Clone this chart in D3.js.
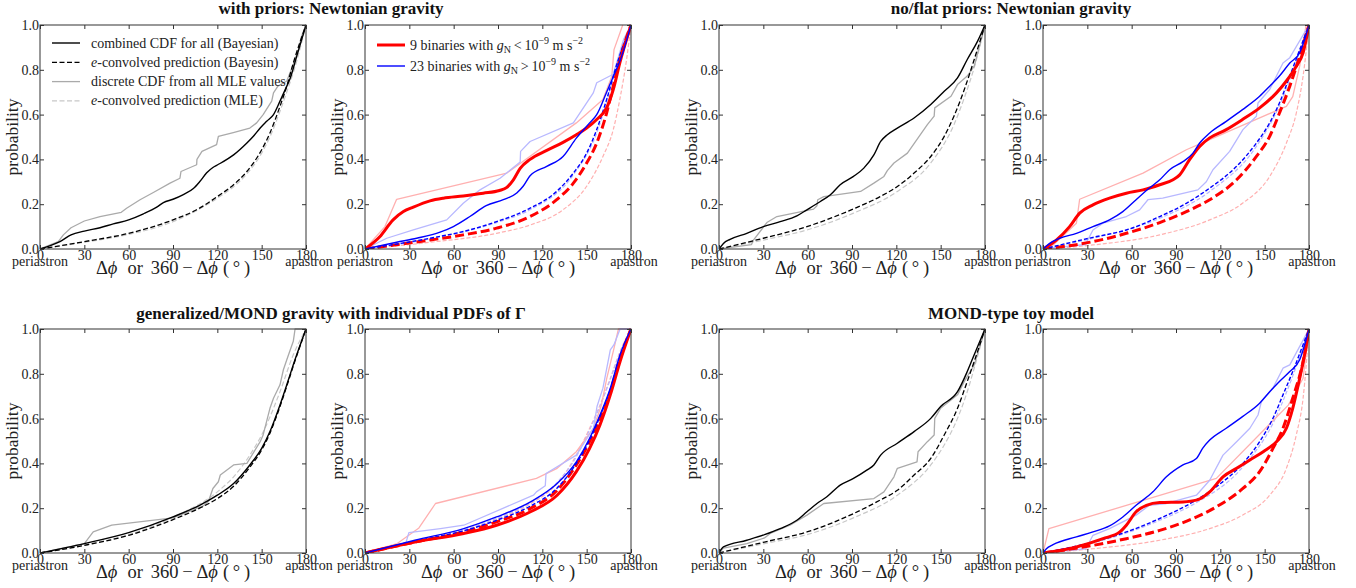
<!DOCTYPE html>
<html><head><meta charset="utf-8">
<script src="https://cdn.jsdelivr.net/npm/d3@7"></script>
<style>
body{margin:0;background:#fff}
svg{display:block}
svg text{font-family:"Liberation Serif","DejaVu Serif","Times New Roman",serif;fill:#222}
</style></head><body>
<svg id="c" width="1356" height="588"></svg>
<script>
// ---------- tick labels ----------
const xTicks=[0,30,60,90,120,150,180];
const yTicks=[0,0.2,0.4,0.6,0.8,1.0];
const titles=["with priors: Newtonian gravity","no/flat priors: Newtonian gravity","generalized/MOND gravity with individual PDFs of \u0393","MOND-type toy model"];
const legendAll=["combined CDF for all (Bayesian)","e-convolved prediction (Bayesin)","discrete CDF from all MLE values","e-convolved prediction (MLE)"];

// ---------- panel 1: with priors, all ----------
const p1_bayes=[[0,0],[7,0.015],[13.5,0.033],[21,0.063],[30,0.08],[40.6,0.095],[49.6,0.112],[60,0.13],[70,0.157],[79,0.187],[83.5,0.207],[90,0.222],[97,0.243],[103.8,0.27],[108,0.30],[112.8,0.34],[117,0.364],[120,0.375],[131,0.42],[140,0.473],[144.4,0.503],[149,0.54],[153.4,0.57],[158,0.60],[162.4,0.66],[167,0.727],[169,0.757],[173.7,0.86],[180,1]];
const p1_bayesPred=[[0,0],[15,0.016],[30,0.033],[60,0.07],[90,0.13],[106,0.175],[120,0.234],[131,0.287],[140,0.346],[150,0.443],[155.6,0.518],[162.4,0.637],[167,0.727],[171.4,0.83],[180,1]];
const p1_mle=[[0,0],[12.4,0.033],[15.8,0.063],[21,0.095],[30,0.125],[40.6,0.145],[55,0.164],[58.6,0.182],[67.7,0.22],[76.7,0.252],[88,0.294],[94.7,0.316],[95.4,0.346],[106,0.376],[106.2,0.40],[109.6,0.436],[119.5,0.466],[120.7,0.503],[130.8,0.52],[142,0.54],[146.6,0.563],[151,0.60],[156.8,0.66],[158,0.697],[161,0.727],[167,0.75],[171.4,0.824],[174.8,0.89],[177,0.95],[180,1]];
const p1_mlePred=[[0,0],[30,0.03],[60,0.065],[90,0.122],[120,0.227],[131,0.278],[140,0.335],[150,0.428],[155.6,0.50],[162.4,0.615],[168,0.72],[172,0.80],[180,1]];

// ---------- panel 2: with priors, split ----------
const p2_redB=[[0,0],[10,0.055],[19,0.13],[26,0.167],[32.7,0.187],[44,0.215],[53,0.227],[66.5,0.237],[80,0.249],[91,0.261],[96,0.275],[100.4,0.309],[105,0.36],[111.7,0.40],[123,0.44],[134,0.476],[143,0.51],[150,0.54],[156.8,0.578],[163.5,0.63],[168,0.712],[172.4,0.83],[180,1]];
const p2_blueB=[[0,0],[21.4,0.03],[35,0.048],[50.8,0.075],[59.8,0.10],[71,0.145],[82,0.194],[93.6,0.22],[102.7,0.25],[107,0.28],[111.7,0.327],[123,0.369],[134,0.413],[143,0.495],[152,0.563],[156.8,0.60],[163.5,0.70],[168,0.77],[173.7,0.86],[180,1]];
const p2_redBP=[[0,0],[44,0.04],[66.5,0.063],[89,0.093],[111.7,0.145],[129.7,0.22],[141,0.294],[150,0.384],[156.8,0.473],[163.5,0.607],[168,0.727],[172.4,0.846],[180,1]];
const p2_blueBP=[[0,0],[44,0.048],[66.5,0.078],[89,0.122],[111.7,0.182],[129.7,0.257],[141,0.339],[150,0.428],[156.8,0.533],[163.5,0.667],[170,0.816],[180,1]];
const p2_redM=[[0,0],[13.5,0.10],[21.4,0.222],[96,0.339],[143,0.563],[161,0.667],[167,0.77],[168.5,0.89],[174.4,1]];
const p2_blueM=[[0,0],[14.7,0.048],[32.7,0.085],[55.3,0.13],[66.5,0.204],[77.8,0.264],[91.4,0.316],[105,0.388],[105.3,0.436],[111.7,0.48],[141,0.563],[154.5,0.697],[156.8,0.742],[168,0.78],[175,0.936],[180,1]];
const p2_redMP=[[0,0],[44,0.03],[89,0.07],[111.7,0.107],[134,0.175],[150,0.28],[161,0.413],[168,0.533],[172.4,0.667],[177,0.846],[180,1]];
const p2_blueMP=[[0,0],[44,0.045],[89,0.118],[111.7,0.175],[141,0.331],[156.8,0.518],[163.5,0.655],[170,0.81],[180,1]];

// ---------- panel 3: flat priors, all ----------
const p3_bayes=[[0,0],[3,0.025],[7.5,0.043],[18.8,0.07],[30,0.10],[41.4,0.122],[52.7,0.148],[59.5,0.175],[68.6,0.212],[75.4,0.242],[82,0.287],[91,0.324],[98,0.361],[104.8,0.42],[109.4,0.48],[113.9,0.51],[120.7,0.54],[132,0.585],[143.3,0.645],[152.4,0.704],[161.4,0.764],[168,0.846],[175,0.928],[180,1]];
const p3_bayesPred=[[0,0],[30,0.048],[59.5,0.10],[91,0.179],[109,0.234],[120.7,0.279],[132,0.339],[143.3,0.413],[152.4,0.503],[159,0.593],[166,0.712],[172.7,0.846],[180,1]];
const p3_mle=[[0,0],[22,0.02],[23.3,0.04],[32.4,0.118],[39.2,0.145],[64,0.178],[66.3,0.193],[66.8,0.22],[70.9,0.234],[95.8,0.257],[104.8,0.294],[111.6,0.324],[113.9,0.35],[118.4,0.384],[127.5,0.428],[141,0.555],[145.6,0.593],[146,0.63],[157,0.682],[161.4,0.734],[168,0.772],[172.7,0.816],[180,1]];
const p3_mlePred=[[0,0],[30,0.04],[59.5,0.085],[91,0.16],[120.7,0.257],[143.3,0.384],[159,0.555],[166,0.675],[172.7,0.81],[180,1]];

// ---------- panel 4: flat priors, split ----------
const p4_redB=[[0,0],[9,0.04],[18,0.10],[24.8,0.16],[33.8,0.197],[45,0.227],[56.4,0.249],[67.7,0.264],[79,0.287],[88,0.309],[92.5,0.331],[99.3,0.40],[106,0.458],[112.8,0.496],[124,0.533],[135,0.578],[146.6,0.63],[158,0.697],[164.7,0.75],[171.4,0.816],[176,0.876],[180,1]];
const p4_blueB=[[0,0],[4.5,0.025],[11.3,0.048],[22.6,0.07],[33.8,0.10],[45,0.13],[54,0.167],[63,0.22],[72,0.272],[79,0.309],[85.7,0.354],[94.7,0.39],[101.5,0.428],[106,0.473],[112.8,0.518],[124,0.57],[135,0.622],[146.6,0.682],[153.4,0.727],[160,0.772],[167,0.83],[173.7,0.876],[180,1]];
const p4_redBP=[[0,0],[33.8,0.033],[56.4,0.07],[79,0.118],[97,0.167],[112.8,0.22],[131,0.309],[144.4,0.413],[153.4,0.503],[160,0.607],[167,0.727],[173.7,0.861],[180,1]];
const p4_blueBP=[[0,0],[33.8,0.052],[56.4,0.085],[79,0.145],[97,0.204],[112.8,0.272],[131,0.369],[144.4,0.473],[153.4,0.563],[160,0.652],[167,0.772],[173.7,0.89],[180,1]];
const p4_redM=[[0,0],[6.8,0.018],[22.6,0.115],[24.8,0.222],[67.7,0.339],[97,0.443],[112.8,0.488],[164.7,0.637],[169,0.68],[173.7,0.816],[178,1]];
const p4_blueM=[[0,0],[29,0.02],[30.5,0.043],[33.8,0.085],[40.6,0.115],[56.4,0.145],[65.4,0.175],[71,0.22],[81,0.227],[104.8,0.264],[110.5,0.30],[115,0.354],[126.3,0.436],[135.3,0.533],[144.4,0.593],[145.5,0.652],[153.4,0.712],[162.4,0.83],[167,0.854],[180,1]];
const p4_redMP=[[0,0],[33.8,0.018],[79,0.063],[112.8,0.13],[135,0.204],[153.4,0.324],[164.7,0.473],[171.4,0.607],[176,0.772],[180,1]];
const p4_blueMP=[[0,0],[33.8,0.048],[79,0.137],[112.8,0.257],[144.4,0.458],[160,0.64],[173.7,0.88],[180,1]];

// ---------- panel 5: MOND gravity, all ----------
const p5_bayes=[[0,0],[30,0.042],[60,0.091],[90,0.161],[108,0.213],[120,0.258],[131,0.31],[142,0.393],[150,0.467],[155.6,0.542],[162.4,0.661],[167,0.751],[171.4,0.84],[180,1]];
const p5_bayesPred=[[0,0],[30,0.034],[60,0.079],[90,0.149],[108,0.20],[120,0.243],[131,0.298],[142,0.383],[150,0.46],[155.6,0.535],[162.4,0.654],[167,0.745],[171.4,0.835],[180,1]];
const p5_mle=[[0,0],[30,0.042],[36,0.094],[48.5,0.124],[90,0.157],[110.5,0.21],[114,0.231],[117,0.288],[120.7,0.318],[122,0.348],[131,0.393],[140,0.40],[149,0.497],[151,0.527],[155.6,0.646],[158,0.691],[162.4,0.751],[164.7,0.818],[167,0.863],[171.4,0.945],[172.6,1],[180,1]];
const p5_mlePred=[[0,0],[30,0.036],[60,0.082],[90,0.16],[120,0.273],[131,0.34],[142,0.437],[150,0.527],[162.4,0.72],[171.4,0.885],[180,1]];

// ---------- panel 6: MOND gravity, split ----------
const p6_redB=[[0,0],[33.75,0.049],[66.8,0.087],[89,0.124],[112,0.184],[130,0.258],[143,0.363],[152,0.467],[159,0.572],[166,0.706],[172.6,0.855],[180,1]];
const p6_blueB=[[0,0],[33.75,0.057],[66.8,0.109],[89,0.161],[112,0.228],[130,0.31],[143,0.407],[152,0.512],[159,0.616],[166,0.736],[172.6,0.885],[180,1]];
const p6_redBP=[[0,0],[33.75,0.049],[66.8,0.094],[89,0.139],[112,0.199],[130,0.28],[143,0.393],[152,0.497],[159,0.60],[166,0.72],[172.6,0.87],[180,1]];
const p6_blueBP=[[0,0],[33.75,0.052],[66.8,0.099],[89,0.146],[112,0.21],[130,0.29],[143,0.40],[152,0.504],[159,0.609],[166,0.728],[172.6,0.875],[180,1]];
const p6_redM=[[0,0],[21.8,0.042],[36.5,0.112],[47.7,0.221],[116,0.333],[130,0.378],[143,0.452],[154.6,0.557],[160,0.661],[163.6,0.78],[168,0.90],[171.5,1],[180,1]];
const p6_blueM=[[0,0],[27.5,0.042],[29.7,0.091],[51,0.109],[66.8,0.124],[114,0.258],[116,0.273],[122,0.30],[122.5,0.355],[143,0.437],[154.6,0.557],[157,0.654],[161,0.736],[166,0.907],[168.5,0.93],[172.6,1],[180,1]];
const p6_redMP=[[0,0],[33.75,0.05],[66.8,0.10],[89,0.15],[112,0.22],[130,0.31],[143,0.437],[152,0.557],[159,0.66],[166,0.78],[172.6,0.90],[180,1]];
const p6_blueMP=[[0,0],[33.75,0.052],[66.8,0.103],[89,0.155],[112,0.225],[130,0.315],[143,0.43],[152,0.55],[159,0.655],[166,0.775],[172.6,0.895],[180,1]];

// ---------- panel 7: toy model, all ----------
const p7_bayes=[[0,0],[3,0.027],[18.8,0.057],[30.8,0.082],[41.4,0.109],[52.7,0.146],[59.5,0.184],[66.3,0.221],[73,0.251],[82,0.303],[91,0.333],[100,0.37],[104.8,0.393],[109.4,0.437],[120.7,0.49],[132,0.542],[143.3,0.601],[150,0.654],[161.4,0.72],[168,0.81],[172.7,0.885],[180,1]];
const p7_bayesPred=[[0,0],[30.8,0.049],[59.5,0.094],[91,0.176],[109,0.236],[120.7,0.28],[132,0.348],[143.3,0.422],[152.4,0.527],[161.4,0.646],[168,0.766],[172.7,0.855],[180,1]];
const p7_mle=[[0,0],[3,0.022],[18.8,0.042],[30.8,0.067],[34.6,0.087],[48,0.124],[59.5,0.169],[70.9,0.221],[104.8,0.243],[111.6,0.273],[118.4,0.34],[120.7,0.378],[134,0.407],[134.7,0.452],[141,0.497],[145.6,0.527],[146,0.601],[150,0.646],[161.4,0.706],[166,0.766],[172.7,0.84],[180,1]];
const p7_mlePred=[[0,0],[30.8,0.042],[59.5,0.082],[91,0.157],[120.7,0.258],[143.3,0.393],[152.4,0.482],[161.4,0.601],[168,0.72],[172.7,0.825],[180,1]];

// ---------- panel 8: toy model, split ----------
const p8_redB=[[0,0],[22.6,0.027],[40.6,0.064],[52,0.094],[56.4,0.124],[63,0.184],[70,0.213],[79,0.225],[94.7,0.228],[103.8,0.236],[112.8,0.273],[121.8,0.34],[131,0.378],[140,0.415],[149,0.452],[158,0.497],[164.7,0.557],[169,0.646],[173.7,0.78],[177,0.885],[180,1]];
const p8_blueB=[[0,0],[2.3,0.019],[6.8,0.037],[22.6,0.072],[33.8,0.094],[45,0.121],[54,0.161],[63,0.213],[74.4,0.273],[83.5,0.34],[94.7,0.393],[103.8,0.422],[108,0.467],[112.8,0.504],[124,0.557],[135,0.609],[146.6,0.669],[153.4,0.72],[160,0.766],[167,0.81],[173.7,0.863],[180,1]];
const p8_redBP=[[0,0],[33.8,0.034],[56.4,0.064],[79,0.101],[101.5,0.154],[117.3,0.206],[135.3,0.288],[146.6,0.363],[155.6,0.467],[162.4,0.557],[169,0.691],[176,0.855],[180,1]];
const p8_blueBP=[[0,0],[33.8,0.049],[56.4,0.094],[79,0.154],[101.5,0.228],[117.3,0.296],[135.3,0.40],[146.6,0.497],[155.6,0.601],[162.4,0.706],[169,0.81],[176,0.93],[180,1]];
const p8_redM=[[0,0],[4,0.109],[117.3,0.333],[166,0.66],[176,0.78],[180,1]];
const p8_blueM=[[0,0],[29,0.019],[33.8,0.079],[45,0.109],[54,0.139],[63,0.169],[72,0.213],[83.5,0.221],[103.8,0.258],[112.8,0.325],[121.8,0.437],[131,0.497],[140,0.557],[145.5,0.616],[147.8,0.676],[155.6,0.736],[162.4,0.825],[167,0.84],[180,1]];
const p8_redMP=[[0,0],[33.8,0.019],[79,0.057],[112.8,0.109],[135,0.169],[153.4,0.258],[164.7,0.378],[171.4,0.527],[176,0.691],[180,1]];
const p8_blueMP=[[0,0],[33.8,0.045],[79,0.146],[101.5,0.216],[135.3,0.385],[155.6,0.579],[169,0.79],[180,1]];

// ---------- layout ----------
const FONT='"Liberation Serif","DejaVu Serif","Times New Roman",serif';
const lefts=[40,365,719,1043], tops=[25,329], W=266, H=224;
const styles={
  mle:{c:"#aaaaaa",w:1.3,smooth:false},
  mlePred:{c:"#c8c8c8",w:1.2,dash:"5,2.5",smooth:true},
  bayesPred:{c:"#000000",w:1.3,dash:"5,2.5",smooth:true},
  bayes:{c:"#000000",w:1.4,smooth:true},
  redMP:{c:"#ffb0b0",w:1.2,dash:"4,2",smooth:true},
  blueMP:{c:"#b8b8ff",w:1.2,dash:"4,2",smooth:true},
  redM:{c:"#ffb0b0",w:1.3,smooth:false},
  blueM:{c:"#b8b8ff",w:1.3,smooth:false},
  redBP:{c:"#ff0000",w:3,dash:"9,4",smooth:true},
  blueBP:{c:"#0000ff",w:1.4,dash:"4,2",smooth:true},
  redB:{c:"#ff0000",w:3,smooth:true},
  blueB:{c:"#0000ff",w:1.4,smooth:true}
};
const orderAll=["mlePred","mle","bayesPred","bayes"];
const orderSplit=["redMP","blueMP","redM","blueM","redBP","blueBP","redB","blueB"];
const panels=[
  {c:0,r:0,d:{bayes:p1_bayes,bayesPred:p1_bayesPred,mle:p1_mle,mlePred:p1_mlePred},legend:"all"},
  {c:1,r:0,d:{redB:p2_redB,blueB:p2_blueB,redBP:p2_redBP,blueBP:p2_blueBP,redM:p2_redM,blueM:p2_blueM,redMP:p2_redMP,blueMP:p2_blueMP},legend:"split"},
  {c:2,r:0,d:{bayes:p3_bayes,bayesPred:p3_bayesPred,mle:p3_mle,mlePred:p3_mlePred}},
  {c:3,r:0,d:{redB:p4_redB,blueB:p4_blueB,redBP:p4_redBP,blueBP:p4_blueBP,redM:p4_redM,blueM:p4_blueM,redMP:p4_redMP,blueMP:p4_blueMP}},
  {c:0,r:1,d:{bayes:p5_bayes,bayesPred:p5_bayesPred,mle:p5_mle,mlePred:p5_mlePred}},
  {c:1,r:1,d:{redB:p6_redB,blueB:p6_blueB,redBP:p6_redBP,blueBP:p6_blueBP,redM:p6_redM,blueM:p6_blueM,redMP:p6_redMP,blueMP:p6_blueMP}},
  {c:2,r:1,d:{bayes:p7_bayes,bayesPred:p7_bayesPred,mle:p7_mle,mlePred:p7_mlePred}},
  {c:3,r:1,d:{redB:p8_redB,blueB:p8_blueB,redBP:p8_redBP,blueBP:p8_blueBP,redM:p8_redM,blueM:p8_blueM,redMP:p8_redMP,blueMP:p8_blueMP}}
];

const svg=d3.select("#c");
const x=d3.scaleLinear().domain([0,180]).range([0,W]);
const y=d3.scaleLinear().domain([0,1]).range([H,0]);
const defs=svg.append("defs");
defs.append("clipPath").attr("id","clip").append("rect").attr("x",0).attr("y",-1).attr("width",W).attr("height",H+1);

function lineGen(smooth){
  return d3.line().x(d=>x(d[0])).y(d=>y(d[1])).curve(smooth?d3.curveMonotoneX:d3.curveLinear);
}

panels.forEach(p=>{
  const g=svg.append("g").attr("transform",`translate(${lefts[p.c]},${tops[p.r]})`).attr("font-family",FONT);
  const lg=g.append("g").attr("clip-path","url(#clip)");
  const order=p.d.bayes?orderAll:orderSplit;
  order.forEach(k=>{
    const s=styles[k];
    lg.append("path").datum(p.d[k]).attr("d",lineGen(s.smooth))
      .attr("fill","none").attr("stroke",s.c).attr("stroke-width",s.w)
      .attr("stroke-dasharray",s.dash||null).attr("stroke-linejoin","round");
  });
  // axes
  const fmtX=d3.format("d"), fmtY=d3.format(".1f");
  const styleAxis=a=>{a.attr("font-family",FONT).attr("font-size",14);a.select(".domain").remove();a.selectAll("line").attr("stroke","#333");
    a.selectAll("text").style("font-family",FONT).attr("font-size",14).attr("fill","#222");};
  g.append("g").attr("transform",`translate(0,${H})`).call(d3.axisBottom(x).tickValues(xTicks).tickSize(-4).tickPadding(1).tickFormat(fmtX)).call(styleAxis);
  g.append("g").call(d3.axisTop(x).tickValues(xTicks).tickSize(-4).tickFormat("")).call(styleAxis);
  g.append("g").call(d3.axisLeft(y).tickValues(yTicks).tickSize(-4).tickPadding(1).tickFormat(fmtY)).call(styleAxis);
  g.append("g").attr("transform",`translate(${W},0)`).call(d3.axisRight(y).tickValues(yTicks).tickSize(-4).tickFormat("")).call(styleAxis);
  g.append("rect").attr("width",W).attr("height",H).attr("fill","none").attr("stroke","#333").attr("stroke-width",1);
  // periastron / apastron
  g.append("text").attr("x",x(0)).attr("y",H+17).attr("text-anchor","middle").attr("font-size",14).text("periastron");
  g.append("text").attr("x",x(180)+3).attr("y",H+17).attr("text-anchor","middle").attr("font-size",14).text("apastron");
  // x label
  const xl=g.append("text").attr("x",W/2).attr("y",H+25).attr("text-anchor","middle").attr("font-size",18.5);
  xl.append("tspan").text("\u0394");
  xl.append("tspan").attr("font-style","italic").text("\u03d5");
  xl.append("tspan").attr("dx",10).text("or");
  xl.append("tspan").attr("dx",8).text("360\u2009\u2212\u2009\u0394");
  xl.append("tspan").attr("font-style","italic").text("\u03d5");
  xl.append("tspan").attr("dx",5).text("(\u2009\u00b0\u2009)");
  // y label
  g.append("text").attr("transform",`translate(-22,${H/2}) rotate(-90)`).attr("text-anchor","middle").attr("font-size",17.5).text("probability");
  // legends
  if(p.legend==="all"){
    const ls=["bayes","bayesPred","mle","mlePred"];
    ls.forEach((k,i)=>{
      const yy=18+i*19.3, s=styles[k];
      g.append("line").attr("x1",12).attr("x2",40).attr("y1",yy).attr("y2",yy).attr("stroke",s.c).attr("stroke-width",s.w).attr("stroke-dasharray",s.dash||null);
      const t=g.append("text").attr("x",51).attr("y",yy+4.5).attr("font-size",14);
      const lab=legendAll[i];
      if(lab.startsWith("e-")){t.append("tspan").attr("font-style","italic").text("e");t.append("tspan").text(lab.slice(1));}
      else t.text(lab);
    });
  }
  if(p.legend==="split"){
    const items=[{k:"redB",n:"9",op:"<"},{k:"blueB",n:"23",op:">"}];
    items.forEach((it,i)=>{
      const yy=20+i*21, s=styles[it.k];
      g.append("line").attr("x1",12).attr("x2",40).attr("y1",yy).attr("y2",yy).attr("stroke",s.c).attr("stroke-width",s.w);
      const t=g.append("text").attr("x",45).attr("y",yy+4.5).attr("font-size",14);
      t.append("tspan").text(it.n+" binaries with ");
      t.append("tspan").attr("font-style","italic").text("g");
      t.append("tspan").attr("font-size",10).attr("dy",3).text("N");
      t.append("tspan").attr("dy",-3).text("\u2009"+it.op+"\u200910");
      t.append("tspan").attr("font-size",10).attr("dy",-6).text("\u22129");
      t.append("tspan").attr("dy",6).text(" m s");
      t.append("tspan").attr("font-size",10).attr("dy",-6).text("\u22122");
    });
  }
});

// titles
const titlePos=[[331,14],[1011,14],[331,319],[1011,319]];
titles.forEach((t,i)=>{
  svg.append("text").attr("x",titlePos[i][0]).attr("y",titlePos[i][1]).attr("text-anchor","middle")
    .attr("font-family",FONT).attr("font-size",17).attr("font-weight","bold").style("fill","#111").text(t);
});
</script>
</body></html>
